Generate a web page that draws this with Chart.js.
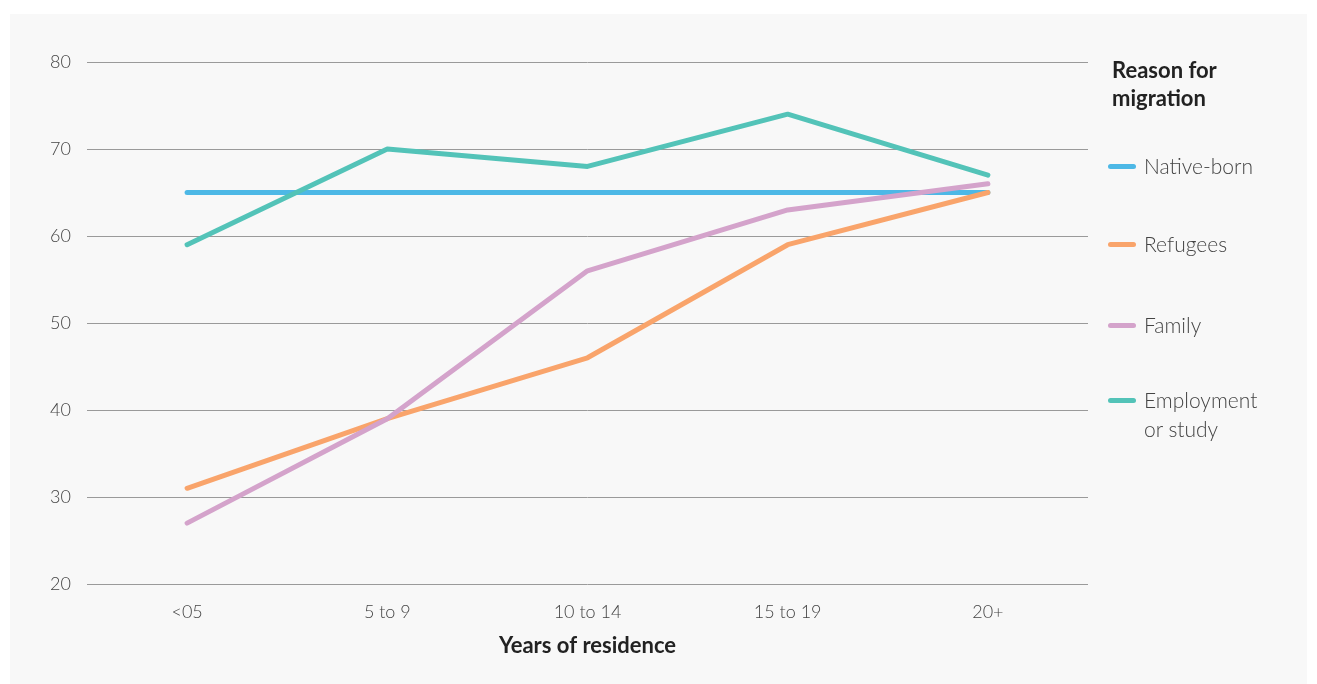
<!DOCTYPE html>
<html>
<head>
<meta charset="utf-8">
<script src="https://cdn.jsdelivr.net/npm/chart.js@4/dist/chart.umd.min.js"></script>
<style>
  html,body{margin:0;padding:0;background:#fff;}
  body{width:1317px;height:684px;position:relative;overflow:hidden;font-family:Lato,"Open Sans",sans-serif;}
  #panel{position:absolute;left:10px;top:14px;width:1297px;height:670px;background:#f8f8f8;}
  #wrap{position:absolute;left:0;top:0;width:1317px;height:684px;}
  .lg-title{position:absolute;left:1112px;top:56px;font-size:22px;font-weight:700;line-height:28px;color:#222;}
  .lg-item{position:absolute;left:1108px;font-size:21px;font-weight:300;line-height:29px;color:#444;}
  .lg-item i{position:absolute;left:0;top:13px;width:28px;height:5px;border-radius:3px;}
  .lg-item span{display:block;margin-left:36px;}
</style>
</head>
<body>
<div id="panel"></div>
<div id="wrap"><canvas id="migChart"></canvas></div>
<div id="legend"></div>
<script>
  // --- data ---
  var years      = ['<05','5 to 9','10 to 14','15 to 19','20+'];
  var nativeBorn = [65, 65, 65, 65, 65];
  var refugees   = [31, 39, 46, 59, 65];
  var family     = [27, 39, 56, 63, 66];
  var employment = [59, 70, 68, 74, 67];
  var yTicks     = [20, 30, 40, 50, 60, 70, 80];

  var series = [
    {label:'Native-born', data:nativeBorn, color:'#4db8e6', order:4, top:151},
    {label:'Refugees', data:refugees, color:'#f9a46b', order:3, top:229},
    {label:'Family', data:family, color:'#d4a3cb', order:2, top:310},
    {label:'Employment<br>or study', data:employment, color:'#53c3b8', order:1, top:385}
  ];

  // html legend on the right
  var lg = document.getElementById('legend');
  var t = document.createElement('div');
  t.className = 'lg-title';
  t.innerHTML = 'Reason for<br>migration';
  lg.appendChild(t);
  series.forEach(function(s){
    var d = document.createElement('div');
    d.className = 'lg-item';
    d.style.top = s.top + 'px';
    d.innerHTML = '<i style="background:' + s.color + '"></i><span>' + s.label + '</span>';
    lg.appendChild(d);
  });

  var ctx = document.getElementById('migChart');
  new Chart(ctx, {
    type:'line',
    data:{
      labels: years,
      datasets: series.map(function(s){
        return {
          label: s.label.replace('<br>',' '),
          data: s.data,
          borderColor: s.color,
          backgroundColor: s.color,
          borderWidth: 5,
          borderCapStyle: 'round',
          borderJoinStyle: 'round',
          pointRadius: 0,
          tension: 0,
          order: s.order
        };
      })
    },
    options:{
      responsive: true,
      maintainAspectRatio: false,
      animation: false,
      layout:{padding:{left:0, top:62, right:229, bottom:0}},
      plugins:{legend:{display:false}, tooltip:{enabled:false}},
      scales:{
        x:{
          offset: true,
          grid:{display:false},
          border:{display:false},
          ticks:{font:{family:'Lato', size:18, weight:300}, color:'#444', padding:9},
          title:{display:true, text:'Years of residence', color:'#222',
                 font:{family:'Lato', size:22, weight:700}, padding:{top:0, bottom:25}},
          afterFit:function(sc){ sc.height = 100; }
        },
        y:{
          min: yTicks[0], max: yTicks[yTicks.length-1],
          afterBuildTicks:function(sc){ sc.ticks = yTicks.map(function(v){ return {value:v}; }); },
          grid:{color:'#9a9a9a', lineWidth:1, drawTicks:false},
          border:{display:false},
          ticks:{font:{family:'Lato', size:18, weight:300}, color:'#444', padding:16},
          afterFit:function(sc){ sc.width = 87; }
        }
      }
    }
  });
</script>
</body>
</html>
